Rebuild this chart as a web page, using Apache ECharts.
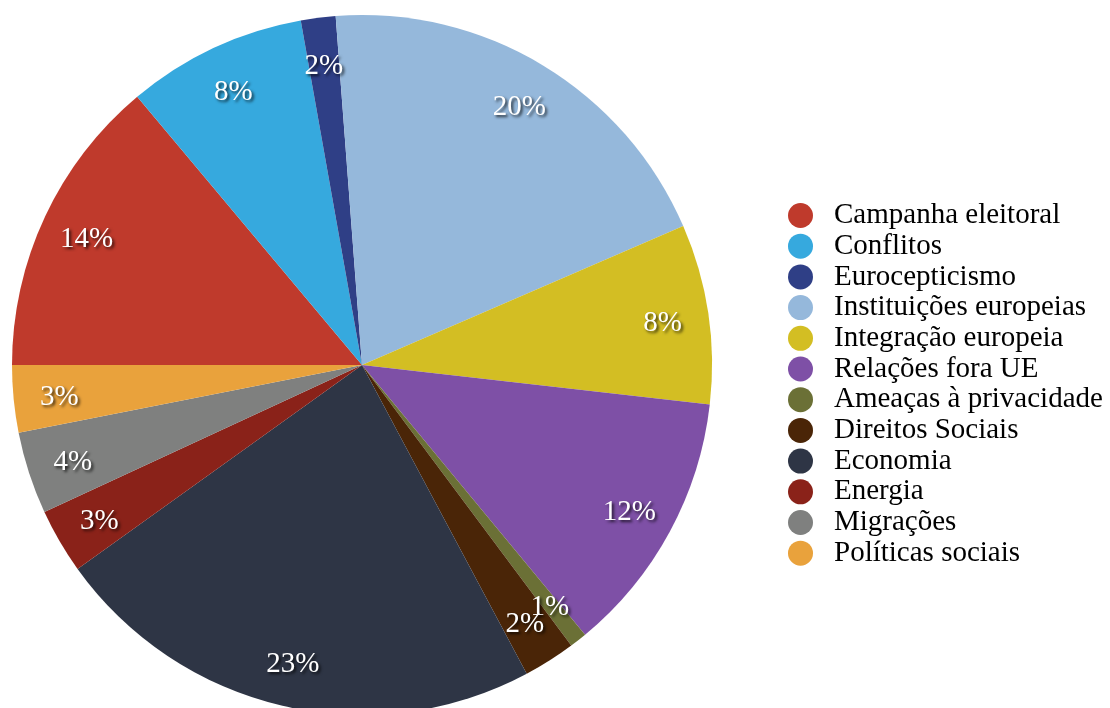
<!DOCTYPE html>
<html>
<head>
<meta charset="utf-8">
<title>Temas</title>
<script src="https://cdn.jsdelivr.net/npm/echarts@6/dist/echarts.min.js"></script>
<style>
  html, body { margin: 0; padding: 0; background: #ffffff; }
  #chart { width: 1110px; height: 708px; }
</style>
</head>
<body>
<div id="chart"></div>
<script>
// Topic shares (percent of total)
const categories = [
  'Campanha eleitoral', 'Conflitos', 'Eurocepticismo', 'Instituições europeias',
  'Integração europeia', 'Relações fora UE', 'Ameaças à privacidade', 'Direitos Sociais',
  'Economia', 'Energia', 'Migrações', 'Políticas sociais'
];
const shares = [13.9, 8.3, 1.6, 19.7, 8.3, 12.2, 0.8, 2.4, 22.9, 3.0, 3.8, 3.1];
const palette = [
  '#bf3a2c', '#36a9de', '#2f3f86', '#95b8db',
  '#d3be23', '#7e50a6', '#6b7036', '#4a2507',
  '#2e3545', '#8a2219', '#7f807f', '#e9a23c'
];

const serif = "'Liberation Serif', 'Times New Roman', serif";
const pieData = categories.map((name, i) => ({ name, value: shares[i] }));

const chart = echarts.init(document.getElementById('chart'), null, { renderer: 'canvas' });
chart.setOption({
  backgroundColor: '#ffffff',
  animation: false,
  color: palette,
  legend: {
    orient: 'vertical',
    left: 783,
    top: 196,
    icon: 'circle',
    itemWidth: 25,
    itemHeight: 25,
    itemGap: 1.7,
    data: categories,
    textStyle: {
      fontFamily: serif,
      fontSize: 29,
      lineHeight: 28,
      color: '#000000',
      padding: [0, 0, 0, 16]
    }
  },
  series: [
    {
      // the pie itself
      type: 'pie',
      center: [362, 365],
      radius: [0, 350],
      startAngle: 180,
      clockwise: true,
      label: { show: false },
      labelLine: { show: false },
      emphasis: { disabled: true },
      itemStyle: { borderWidth: 0 },
      data: pieData
    },
    {
      // transparent outer ring that carries the percentage labels
      type: 'pie',
      center: [362, 365],
      radius: [252, 350],
      startAngle: 180,
      clockwise: true,
      silent: true,
      legendHoverLink: false,
      avoidLabelOverlap: false,
      minShowLabelAngle: 0,
      emphasis: { disabled: true },
      itemStyle: { color: 'rgba(0,0,0,0)', borderWidth: 0 },
      labelLine: { show: false },
      labelLayout: { hideOverlap: false },
      label: {
        show: true,
        position: 'inside',
        overflow: 'none',
        offset: [0, 3],
        formatter: p => Math.round(p.percent) + '%',
        fontFamily: serif,
        fontSize: 29,
        color: '#ffffff',
        textShadowColor: 'rgba(0,0,0,0.75)',
        textShadowBlur: 3,
        textShadowOffsetX: 2,
        textShadowOffsetY: 2
      },
      data: pieData
    }
  ]
});
</script>
</body>
</html>
